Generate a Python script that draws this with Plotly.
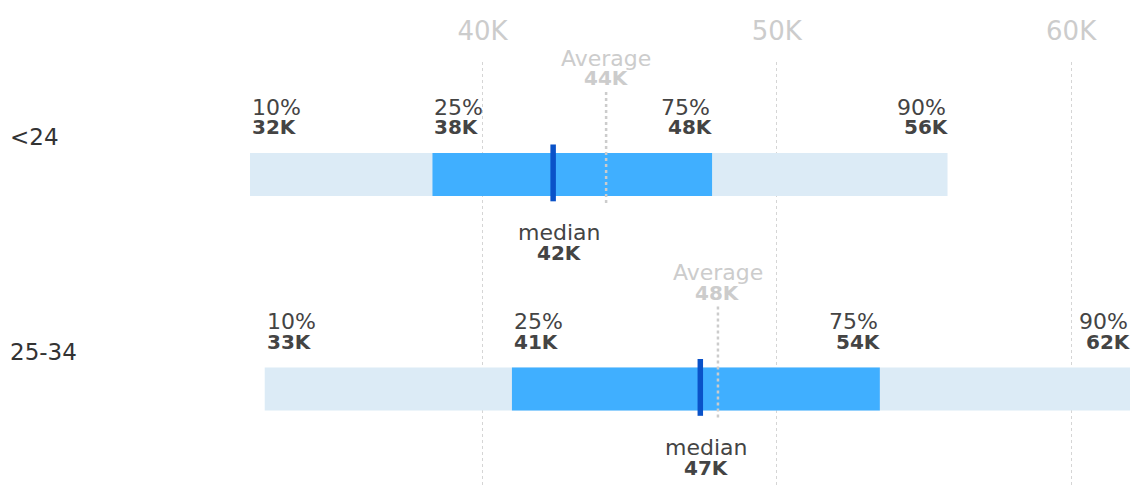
import plotly.graph_objects as go

groups = ["<24", "25-34"]
p10 = [32100, 32600]
p25 = [38300, 41000]
median = [42400, 47400]
average = [44200, 48000]
p75 = [47800, 53500]
p90 = [55800, 62000]
tick_vals = [40000, 50000, 60000]
tick_text = ["40K", "50K", "60K"]

LIGHT = "#DCEBF6"
DARK = "#40AFFF"
MED = "#0A52C8"
GREY = "#CCCCCC"
TXT = "#444444"
FONT = "DejaVu Sans"


def k(v):
    return f"{int(v / 1000 + 0.5)}K"


rows = list(range(len(groups)))
fig = go.Figure()

fig.add_trace(go.Bar(
    y=rows, x=[b - a for a, b in zip(p10, p90)], base=p10, orientation="h",
    width=0.2, marker=dict(color=LIGHT, line=dict(width=0)), hoverinfo="skip"))
fig.add_trace(go.Bar(
    y=rows, x=[b - a for a, b in zip(p25, p75)], base=p25, orientation="h",
    width=0.2, marker=dict(color=DARK, line=dict(width=0)), hoverinfo="skip"))

for i in rows:
    # average dashed line
    fig.add_trace(go.Scatter(
        x=[average[i], average[i]], y=[i - 0.385, i + 0.133], mode="lines",
        line=dict(color=GREY, width=2.5, dash="dot"), hoverinfo="skip"))
    # median marker
    fig.add_trace(go.Scatter(
        x=[median[i], median[i]], y=[i - 0.14, i + 0.125], mode="lines",
        line=dict(color=MED, width=5.5), hoverinfo="skip"))

ann = []
for i in rows:
    # row label
    ann.append(dict(xref="paper", yref="y", x=0, y=i, xshift=-242, yshift=37.5,
                    xanchor="left", yanchor="middle", showarrow=False,
                    text=groups[i], font=dict(family=FONT, size=23, color="#333333")))
    for val, pct, anchor in [(p10[i], "10%", "left"), (p25[i], "25%", "left"),
                             (p75[i], "75%", "right"), (p90[i], "90%", "right")]:
        ann.append(dict(x=val, y=i, yshift=67.5, xanchor=anchor, yanchor="middle",
                        showarrow=False, text=pct,
                        font=dict(family=FONT, size=22, color=TXT)))
        ann.append(dict(x=val, y=i, yshift=47.5, xanchor=anchor, yanchor="middle",
                        xshift=3 if anchor == "right" else 0,
                        showarrow=False, text=f"<b>{k(val)}</b>",
                        font=dict(family=FONT, size=20, color=TXT)))
    ann.append(dict(x=median[i], y=i, yshift=-58, xshift=6, xanchor="center", yanchor="middle",
                    showarrow=False, text="median",
                    font=dict(family=FONT, size=22, color=TXT)))
    ann.append(dict(x=median[i], y=i, yshift=-78.5, xshift=6, xanchor="center", yanchor="middle",
                    showarrow=False, text=f"<b>{k(median[i])}</b>",
                    font=dict(family=FONT, size=20, color=TXT)))
    ann.append(dict(x=average[i], y=i, yshift=116.5, xanchor="center", yanchor="middle",
                    showarrow=False, text="Average",
                    font=dict(family=FONT, size=22, color=GREY)))
    ann.append(dict(x=average[i], y=i, yshift=96.5, xanchor="center", yanchor="middle",
                    showarrow=False, text=f"<b>{k(average[i])}</b>",
                    font=dict(family=FONT, size=20, color=GREY)))

fig.update_layout(
    width=1140, height=488,
    margin=dict(l=242, r=18, t=54, b=8),
    paper_bgcolor="white", plot_bgcolor="white",
    barmode="overlay", showlegend=False,
    annotations=ann,
    xaxis=dict(range=[min(p10), max(p90)], side="top", tickvals=tick_vals,
               ticktext=tick_text, showgrid=True, gridcolor="#D5D5D5", griddash="dot",
               gridwidth=1, zeroline=False, showline=False, ticks="",
               tickfont=dict(family=FONT, size=26, color=GREY), ticklabelstandoff=16),
    yaxis=dict(range=[1.4615, -0.5245], showgrid=False, zeroline=False,
               showticklabels=False, showline=False, ticks=""),
)

fig.write_html("out.html")
